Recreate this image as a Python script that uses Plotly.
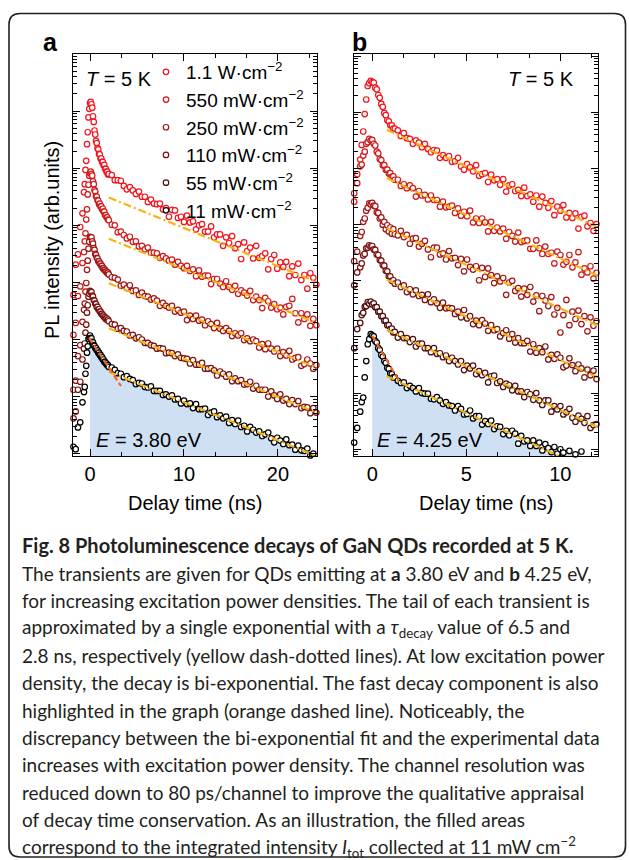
import numpy as np
import plotly.graph_objects as go

W, H = 629, 860


def X(px):
    return px / W


def Y(py):
    return 1 - py / H


def channels(start, step, n):
    return np.round(start + step * np.arange(n), 2)


# Delay-time channels (ns): coarse baseline, fine around the pulse, binned tail
TIME_A = np.concatenate([channels(-1.76, 0.24, 5), channels(-0.64, 0.08, 34), channels(2.32, 0.32, 69)])
TIME_B = np.concatenate([channels(-0.96, 0.16, 3), channels(-0.56, 0.08, 23), channels(1.36, 0.16, 67)])

POWER_LABELS = ["1.1 W·cm<sup>−2</sup>", "550 mW·cm<sup>−2</sup>", "250 mW·cm<sup>−2</sup>",
                "110 mW·cm<sup>−2</sup>", "55 mW·cm<sup>−2</sup>", "11 mW·cm<sup>−2</sup>"]
POWER_COLORS = ["#f0141e", "#cf1a1a", "#a31515", "#7c1111", "#520d0d", "#000000"]

# log10 of the PL intensity (arb. units, curves offset for clarity) -- panel a, E = 3.80 eV
A_1100 = [2.78, 3.31, 3.49, 3.97, 4.21,
          4.58, 4.72, 4.97, 5.13, 5.42, 5.63, 5.89, 6.04, 6.14, 6.16,
          6.12, 6.06, 5.91, 5.81, 5.66, 5.59, 5.48, 5.44, 5.35, 5.33,
          5.25, 5.24, 5.17, 5.17, 5.11, 5.11, 5.05, 5.06, 4.99, 4.99,
          4.94, 4.94, 4.89, 4.90,
          4.88, 4.79, 4.79, 4.78, 4.69, 4.63, 4.67, 4.61, 4.55, 4.59,
          4.50, 4.50, 4.41, 4.45, 4.38, 4.37, 4.38, 4.28, 4.30, 4.15,
          4.27, 4.26, 4.13, 4.15, 4.06, 4.17, 4.05, 4.07, 3.93, 4.00,
          4.02, 3.89, 3.89, 3.98, 3.79, 3.84, 3.84, 3.64, 3.79, 3.69,
          3.81, 3.60, 3.67, 3.41, 3.70, 3.55, 3.61, 3.42, 3.64, 3.43,
          3.46, 3.51, 3.23, 3.41, 3.48, 3.24, 3.35, 3.27, 3.36, 3.11,
          3.28, 3.13, 3.33, 3.04, 3.13, 2.89, 3.16, 3.08, 2.96]
A_550 = [2.08, 2.29, 2.76, 2.93, 3.34,
         3.53, 3.72, 3.86, 4.10, 4.28, 4.54, 4.71, 4.87, 4.91, 4.94,
         4.90, 4.87, 4.77, 4.72, 4.62, 4.59, 4.51, 4.50, 4.44, 4.43,
         4.37, 4.38, 4.33, 4.33, 4.28, 4.29, 4.24, 4.24, 4.18, 4.18,
         4.14, 4.14, 4.10, 4.09,
         4.01, 4.00, 3.88, 3.89, 3.83, 3.77, 3.80, 3.71, 3.72, 3.63,
         3.64, 3.58, 3.61, 3.52, 3.52, 3.51, 3.43, 3.46, 3.42, 3.38,
         3.40, 3.31, 3.36, 3.29, 3.25, 3.29, 3.20, 3.23, 3.11, 3.21,
         3.10, 3.12, 3.12, 2.97, 3.06, 3.06, 2.98, 2.92, 3.02, 2.92,
         2.87, 2.94, 2.80, 2.86, 2.82, 2.77, 2.85, 2.69, 2.75, 2.69,
         2.55, 2.73, 2.67, 2.56, 2.62, 2.53, 2.56, 2.44, 2.57, 2.59,
         2.71, 2.46, 2.30, 2.46, 2.36, 2.44, 2.24, 2.36, 2.25]
A_250 = [1.12, 1.28, 1.71, 1.90, 2.31,
         2.52, 2.63, 2.84, 2.99, 3.22, 3.38, 3.59, 3.71, 3.80, 3.79,
         3.79, 3.72, 3.68, 3.60, 3.57, 3.50, 3.48, 3.43, 3.42, 3.37,
         3.37, 3.33, 3.33, 3.29, 3.29, 3.25, 3.25, 3.22, 3.22, 3.19,
         3.19, 3.16, 3.17, 3.14,
         3.09, 3.08, 3.05, 2.94, 2.96, 2.90, 2.95, 2.85, 2.86, 2.78,
         2.82, 2.76, 2.75, 2.70, 2.72, 2.68, 2.59, 2.64, 2.59, 2.56,
         2.59, 2.49, 2.52, 2.47, 2.49, 2.34, 2.42, 2.36, 2.42, 2.33,
         2.35, 2.25, 2.32, 2.27, 2.20, 2.29, 2.19, 2.15, 2.20, 2.15,
         2.06, 2.11, 2.07, 2.11, 1.99, 2.02, 1.97, 2.00, 1.97, 1.86,
         1.92, 1.83, 1.93, 1.84, 1.79, 1.84, 1.71, 1.78, 1.72, 1.80,
         1.65, 1.68, 1.69, 1.54, 1.57, 1.65, 1.58, 1.49, 1.55]
A_110 = [0.62, 0.74, 1.12, 1.26, 1.65,
         1.84, 1.93, 2.12, 2.26, 2.47, 2.60, 2.75, 2.80, 2.85, 2.83,
         2.83, 2.77, 2.75, 2.69, 2.68, 2.63, 2.62, 2.57, 2.57, 2.53,
         2.53, 2.49, 2.49, 2.45, 2.45, 2.42, 2.42, 2.39, 2.39, 2.36,
         2.37, 2.34, 2.35, 2.32,
         2.27, 2.26, 2.19, 2.20, 2.15, 2.14, 2.07, 2.08, 2.02, 2.04,
         2.00, 1.94, 1.94, 1.90, 1.89, 1.84, 1.85, 1.84, 1.76, 1.77,
         1.76, 1.71, 1.74, 1.68, 1.67, 1.66, 1.58, 1.64, 1.56, 1.56,
         1.59, 1.49, 1.49, 1.50, 1.46, 1.37, 1.44, 1.40, 1.35, 1.39,
         1.27, 1.32, 1.27, 1.29, 1.21, 1.22, 1.26, 1.14, 1.19, 1.12,
         1.12, 1.12, 1.00, 1.09, 1.02, 0.96, 1.04, 0.93, 0.96, 0.87,
         0.94, 0.87, 0.92, 0.80, 0.82, 0.81, 0.71, 0.80, 0.72]
A_11 = [0.12, 0.08, 0.46, 0.55, 0.90,
        1.08, 1.17, 1.40, 1.54, 1.77, 1.88, 2.01, 2.04, 2.07, 2.03,
        2.02, 1.96, 1.95, 1.90, 1.89, 1.85, 1.85, 1.81, 1.81, 1.77,
        1.77, 1.73, 1.73, 1.69, 1.69, 1.65, 1.65, 1.61, 1.61, 1.58,
        1.58, 1.55, 1.55, 1.52,
        1.51, 1.47, 1.41, 1.40, 1.34, 1.36, 1.31, 1.29, 1.22, 1.24,
        1.23, 1.17, 1.16, 1.18, 1.10, 1.10, 1.10, 1.03, 1.04, 1.00,
        1.02, 0.95, 0.96, 0.88, 0.93, 0.87, 0.88, 0.80, 0.87, 0.78,
        0.78, 0.79, 0.68, 0.72, 0.74, 0.64, 0.67, 0.62, 0.65, 0.54,
        0.59, 0.52, 0.58, 0.47, 0.49, 0.39, 0.47, 0.42, 0.37, 0.39,
        0.31, 0.34, 0.37, 0.27, 0.20, 0.28, 0.23, 0.17, 0.25, 0.15,
        0.16, 0.07, 0.14, 0.06, 0.05, 0.09, -0.03, 0.00, -0.10]

# log10 of the PL intensity -- panel b, E = 4.25 eV
B_1100 = [4.41, 4.90, 5.16,
          5.42, 5.66, 5.97, 6.23, 6.47, 6.52, 6.56, 6.54, 6.53, 6.44,
          6.41, 6.31, 6.26, 6.15, 6.10, 5.99, 5.95, 5.86, 5.84, 5.77,
          5.77, 5.71, 5.71,
          5.68, 5.58, 5.63, 5.54, 5.53, 5.44, 5.50, 5.46, 5.38, 5.44,
          5.35, 5.29, 5.33, 5.32, 5.19, 5.24, 5.19, 5.22, 5.12, 5.13,
          5.19, 5.04, 4.98, 5.08, 5.02, 4.95, 5.06, 4.87, 4.90, 4.92,
          4.76, 4.89, 4.79, 4.81, 4.71, 4.81, 4.59, 4.70, 4.72, 4.60,
          4.62, 4.51, 4.66, 4.51, 4.54, 4.41, 4.52, 4.32, 4.50, 4.39,
          4.30, 4.42, 4.17, 4.32, 4.25, 4.35, 4.13, 4.21, 4.12, 4.20,
          3.93, 4.14, 4.16, 3.97, 4.03, 3.89, 4.01]
B_550 = [4.56, 4.74, 5.04,
         5.07, 5.23, 5.30, 5.44, 5.47, 5.53, 5.50, 5.51, 5.44, 5.41,
         5.30, 5.27, 5.17, 5.15, 5.06, 5.06, 4.98, 4.98, 4.91, 4.92,
         4.85, 4.86, 4.80,
         4.80, 4.69, 4.72, 4.65, 4.70, 4.65, 4.50, 4.60, 4.52, 4.53,
         4.45, 4.52, 4.44, 4.44, 4.32, 4.41, 4.31, 4.32, 4.34, 4.21,
         4.29, 4.16, 4.23, 4.15, 4.25, 4.04, 4.11, 4.03, 4.11, 4.04,
         3.88, 4.05, 3.89, 3.95, 3.88, 3.93, 3.75, 3.87, 3.80, 3.70,
         3.86, 3.69, 3.71, 3.72, 3.57, 3.57, 3.72, 3.58, 3.48, 3.61,
         3.48, 3.50, 3.31, 3.52, 3.46, 3.29, 3.34, 3.46, 3.24, 3.33,
         3.51, 3.11, 3.22, 3.15, 3.26, 3.04, 3.14]
B_250 = [3.35, 3.52, 3.80,
         3.87, 4.05, 4.11, 4.25, 4.30, 4.38, 4.36, 4.39, 4.34, 4.33,
         4.22, 4.21, 4.11, 4.13, 4.00, 4.05, 3.92, 3.99, 3.88, 3.95,
         3.84, 3.92, 3.83,
         3.81, 3.89, 3.78, 3.82, 3.66, 3.75, 3.76, 3.61, 3.66, 3.71,
         3.56, 3.42, 3.59, 3.59, 3.47, 3.49, 3.38, 3.53, 3.40, 3.41,
         3.28, 3.39, 3.17, 3.38, 3.25, 3.20, 3.26, 3.01, 3.23, 3.07,
         3.22, 3.10, 2.96, 3.08, 2.99, 3.05, 2.75, 2.97, 3.00, 2.82,
         2.87, 2.72, 2.86, 2.75, 2.89, 2.63, 2.74, 2.46, 2.73, 2.65,
         2.55, 2.71, 2.40, 2.52, 2.08, 2.39, 2.66, 2.21, 2.45, 2.32,
         2.47, 2.23, 2.37, 2.10, 2.35, 2.20, 2.28]
B_110 = [2.92, 3.15, 3.24,
         3.31, 3.45, 3.48, 3.58, 3.59, 3.63, 3.61, 3.62, 3.56, 3.55,
         3.47, 3.46, 3.37, 3.36, 3.28, 3.27, 3.18, 3.17, 3.08, 3.08,
         3.00, 3.01, 2.95,
         2.97, 2.89, 2.92, 2.80, 2.85, 2.76, 2.83, 2.73, 2.75, 2.66,
         2.76, 2.62, 2.67, 2.60, 2.52, 2.61, 2.51, 2.52, 2.51, 2.41,
         2.45, 2.35, 2.48, 2.33, 2.37, 2.23, 2.29, 2.21, 2.30, 2.24,
         2.11, 2.21, 2.12, 2.14, 2.01, 2.07, 2.12, 1.97, 2.05, 1.90,
         1.98, 1.89, 1.89, 1.93, 1.74, 1.87, 1.72, 1.80, 1.73, 1.83,
         1.60, 1.68, 1.61, 1.69, 1.63, 1.46, 1.49, 1.62, 1.50, 1.39,
         1.51, 1.44, 1.28, 1.42, 1.32, 1.40, 1.25]
B_55 = [1.80, 2.14, 2.25,
        2.39, 2.43, 2.54, 2.55, 2.62, 2.59, 2.63, 2.58, 2.60, 2.53,
        2.53, 2.45, 2.45, 2.37, 2.37, 2.29, 2.29, 2.21, 2.21, 2.14,
        2.15, 2.08, 2.09,
        1.99, 2.05, 1.98, 1.98, 1.91, 1.96, 1.83, 1.88, 1.88, 1.80,
        1.80, 1.73, 1.80, 1.70, 1.71, 1.64, 1.67, 1.57, 1.63, 1.57,
        1.51, 1.57, 1.41, 1.49, 1.44, 1.49, 1.34, 1.39, 1.32, 1.36,
        1.19, 1.30, 1.31, 1.18, 1.21, 1.11, 1.17, 1.14, 1.05, 1.13,
        1.03, 1.03, 0.93, 1.02, 0.98, 0.88, 1.00, 0.87, 0.79, 0.87,
        0.87, 0.67, 0.77, 0.71, 0.77, 0.62, 0.66, 0.72, 0.56, 0.49,
        0.60, 0.54, 0.47, 0.59, 0.38, 0.43, 0.45]
B_11 = [0.12, 0.38, 0.67,
        0.84, 0.92, 1.28, 1.57, 1.87, 1.96, 2.05, 2.03, 2.01, 1.93,
        1.90, 1.80, 1.77, 1.68, 1.65, 1.57, 1.54, 1.45, 1.43, 1.35,
        1.34, 1.28, 1.28,
        1.22, 1.18, 1.19, 1.09, 1.13, 1.09, 1.03, 1.09, 1.00, 0.99,
        0.99, 0.90, 0.89, 0.93, 0.87, 0.81, 0.84, 0.78, 0.77, 0.69,
        0.77, 0.72, 0.62, 0.63, 0.69, 0.55, 0.59, 0.59, 0.44, 0.50,
        0.45, 0.51, 0.36, 0.41, 0.40, 0.27, 0.33, 0.25, 0.33, 0.28,
        0.10, 0.24, 0.14, 0.16, 0.06, 0.16, 0.06, 0.12, -0.02, 0.09,
        0.02, -0.05, 0.04, -0.08, 0.00, -0.06, None, -0.03, None, -0.09,
        None, -0.04, None, None, None, None, None]

SERIES_A = [A_1100, A_550, A_250, A_110, A_11]
COLOR_INDEX_A = [0, 1, 2, 3, 5]
SERIES_B = [B_1100, B_550, B_250, B_110, B_55, B_11]

# Single-exponential tails (yellow) and fast component at 11 mW/cm2 (orange)
TAU_TAIL_A = 6.5
TAU_TAIL_B = 2.8
TAIL_LOG_AMP_A = [4.62, 3.90, 3.12, 2.33, 1.57]
TAIL_LOG_AMP_B = [5.81, 4.95, 4.06, 3.14, 2.25, 1.42]
TAIL_SPAN_A = (2.0, 24.15)
TAIL_SPAN_B = (0.77, 12.0)
FAST_LOG_AMP_A, FAST_TAU_A, FAST_SPAN_A = 2.005, 1.75, (-0.1, 3.3)
FAST_LOG_AMP_B, FAST_TAU_B, FAST_SPAN_B = 2.02, 0.77, (0.0, 1.4)

for t, group in ((TIME_A, SERIES_A), (TIME_B, SERIES_B)):
    for s in group:
        assert len(s) == len(t), (len(s), len(t))


def lin(values):
    return [None if v is None else 10 ** v for v in values]


def mono_exp(log_amp, tau, span):
    t = np.array(span, dtype=float)
    return t, 10 ** log_amp * np.exp(-t / tau)


def filled_area(t, logs, floor=0.1):
    pts = [(ti, 10 ** v) for ti, v in zip(t, logs) if ti >= -1e-9 and v is not None]
    xs = [p[0] for p in pts]
    ys = [p[1] for p in pts]
    return [xs[0]] + xs + [xs[-1]], [floor] + ys + [floor]


FONT = "Liberation Sans"
YELLOW = "#f8b310"
ORANGE = "#f0641e"
FILL = "#cfe0f5"

fig = go.Figure()

panels = [
    ("x", "y", TIME_A, SERIES_A, COLOR_INDEX_A, TAIL_LOG_AMP_A, TAU_TAIL_A, TAIL_SPAN_A,
     (FAST_LOG_AMP_A, FAST_TAU_A, FAST_SPAN_A), False),
    ("x2", "y2", TIME_B, SERIES_B, list(range(6)), TAIL_LOG_AMP_B, TAU_TAIL_B, TAIL_SPAN_B,
     (FAST_LOG_AMP_B, FAST_TAU_B, FAST_SPAN_B), True),
]

for xa, ya, t, series, cidx, amps, tau, span, fast, legend in panels:
    fx, fy = filled_area(t, series[-1])
    fig.add_trace(go.Scatter(x=fx, y=fy, xaxis=xa, yaxis=ya, mode="none", fill="toself",
                             fillcolor=FILL, showlegend=False, hoverinfo="skip"))
    for s, ci in zip(series, cidx):
        fig.add_trace(go.Scatter(
            x=t, y=lin(s), xaxis=xa, yaxis=ya, mode="markers", cliponaxis=False,
            name=POWER_LABELS[ci], legendgroup=str(ci), showlegend=legend,
            marker=dict(symbol="circle", size=5.5, color="white",
                        line=dict(color=POWER_COLORS[ci], width=1.2))))
    for a in amps:
        lx, ly = mono_exp(a, tau, span)
        fig.add_trace(go.Scatter(x=lx, y=ly, xaxis=xa, yaxis=ya, mode="lines", showlegend=False,
                                 line=dict(color=YELLOW, width=2.2, dash="8px,3px,2px,3px")))
    lx, ly = mono_exp(*fast)
    fig.add_trace(go.Scatter(x=lx, y=ly, xaxis=xa, yaxis=ya, mode="lines", showlegend=False,
                             line=dict(color=ORANGE, width=2.2, dash="6px,3px")))

axis_style = dict(showline=True, linecolor="black", linewidth=1.4, mirror="allticks",
                  ticks="inside", tickcolor="black", tickwidth=1.1, ticklen=7,
                  showgrid=False, zeroline=False,
                  tickfont=dict(family=FONT, size=20, color="black"))
ydom = [Y(456), Y(54)]

fig.update_layout(
    width=W, height=H, margin=dict(l=0, r=0, t=0, b=0),
    paper_bgcolor="white", plot_bgcolor="white",
    xaxis=dict(domain=[X(72.7), X(317)], range=[-1.84, 24.15], anchor="y",
               tickmode="array", tickvals=[0, 10, 20],
               minor=dict(tick0=0, dtick=10 / 3, ticks="inside", ticklen=4,
                          tickcolor="black", tickwidth=1), **axis_style),
    yaxis=dict(domain=ydom, type="log", range=[-0.04, 7.0], anchor="x",
               dtick=1, showticklabels=False,
               minor=dict(dtick="D1", ticks="inside", ticklen=4, tickcolor="black", tickwidth=1),
               **axis_style),
    xaxis2=dict(domain=[X(354), X(598)], range=[-0.97, 12.0], anchor="y2",
                tickmode="array", tickvals=[0, 5, 10],
                minor=dict(tick0=0, dtick=5 / 3, ticks="inside", ticklen=4,
                           tickcolor="black", tickwidth=1), **axis_style),
    yaxis2=dict(domain=ydom, type="log", range=[-0.12, 7.04], anchor="x2",
                dtick=1, showticklabels=False,
                minor=dict(dtick="D1", ticks="inside", ticklen=4, tickcolor="black", tickwidth=1),
                **axis_style),
    legend=dict(x=X(146), y=Y(53), xanchor="left", yanchor="top", bgcolor="rgba(0,0,0,0)",
                font=dict(family=FONT, size=19, color="black"), tracegroupgap=3,
                itemwidth=30, traceorder="normal"),
)


def label(text, x, y, size=20, bold=False, angle=0, xanchor="center", color="black", family=FONT):
    fig.add_annotation(text=f"<b>{text}</b>" if bold else text, x=X(x), y=Y(y),
                       xref="paper", yref="paper", showarrow=False, xanchor=xanchor,
                       yanchor="middle", textangle=angle,
                       font=dict(family=family, size=size, color=color))


label("a", 50, 42, size=25, bold=True)
label("b", 359.5, 42, size=25, bold=True)
label("<i>T</i> = 5 K", 118.5, 79.5)
label("<i>T</i> = 5 K", 540.5, 79.5)
label("<i>E</i> = 3.80 eV", 149, 440)
label("<i>E</i> = 4.25 eV", 430, 440)
label("Delay time (ns)", 195, 503)
label("Delay time (ns)", 486, 503)
label("PL intensity (arb.units)", 52, 240, angle=-90)

CAPTION_TITLE = "Fig. 8 Photoluminescence decays of GaN QDs recorded at 5 K."
CAPTION_LINES = [
    "The transients are given for QDs emitting at <b>a</b> 3.80 eV and <b>b</b> 4.25 eV,",
    "for increasing excitation power densities. The tail of each transient is",
    "approximated by a single exponential with a <i>τ</i><sub>decay</sub> value of 6.5 and",
    "2.8 ns, respectively (yellow dash-dotted lines). At low excitation power",
    "density, the decay is bi-exponential. The fast decay component is also",
    "highlighted in the graph (orange dashed line). Noticeably, the",
    "discrepancy between the bi-exponential fit and the experimental data",
    "increases with excitation power density. The channel resolution was",
    "reduced down to 80 ps/channel to improve the qualitative appraisal",
    "of decay time conservation. As an illustration, the filled areas",
    "correspond to the integrated intensity <i>I</i><sub>tot</sub> collected at 11 mW cm<sup>−2</sup>",
]
CAP_FONT = "Lato"
label(CAPTION_TITLE, 20, 545, size=20, bold=True, xanchor="left", color="#231f20", family=CAP_FONT)
for i, line in enumerate(CAPTION_LINES):
    label(line, 20, 573 + 27.4 * i, size=19, xanchor="left", color="#231f20", family=CAP_FONT)

# rounded frame around figure and caption
x0, x1, y0, y1, r = 9, 625.5, 13.5, 857, 11
frame = (f"M {X(x0 + r)},{Y(y0)} L {X(x1 - r)},{Y(y0)} Q {X(x1)},{Y(y0)} {X(x1)},{Y(y0 + r)} "
         f"L {X(x1)},{Y(y1 - r)} Q {X(x1)},{Y(y1)} {X(x1 - r)},{Y(y1)} "
         f"L {X(x0 + r)},{Y(y1)} Q {X(x0)},{Y(y1)} {X(x0)},{Y(y1 - r)} "
         f"L {X(x0)},{Y(y0 + r)} Q {X(x0)},{Y(y0)} {X(x0 + r)},{Y(y0)} Z")
fig.add_shape(type="path", path=frame, xref="paper", yref="paper",
              line=dict(color="#231f20", width=1.6))

fig.write_html("out.html")
